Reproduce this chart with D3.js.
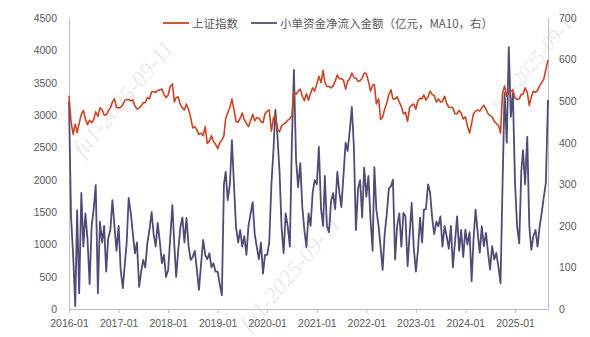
<!DOCTYPE html>
<html><head><meta charset="utf-8">
<script src="https://cdn.jsdelivr.net/npm/d3@7/dist/d3.min.js"></script>
<style>body{margin:0;background:#fff}svg{display:block}</style>
</head><body><svg id="c" width="590" height="337"></svg>
<script>
// ---- data ----
const seriesNames = ["上证指数", "小单资金净流入金额（亿元，MA10，右）"];
const xTickLabels = ["2016-01","2017-01","2018-01","2019-01","2020-01","2021-01","2022-01","2023-01","2024-01","2025-01"];
const leftTicks = [0,500,1000,1500,2000,2500,3000,3500,4000,4500];
const rightTicks = [0,100,200,300,400,500,600,700];
const watermark = "fu1-2025-09-11";

// semi-monthly observations (1st and 16th of each month), 2016-01-01 .. 2025-09-01
const shIndex = [
 3300,2900,2700,2860,2730,2870,3010,3070,2940,2850,2920,2880,2930,3050,2980,3110,3080,3000,3000,3060,3110,3200,3250,3120,
 3110,3120,3160,3230,3240,3240,3220,3230,3140,3090,3110,3140,3190,3190,3270,3250,3360,3360,3350,3380,3390,3400,3320,3270,
 3310,3440,3480,3200,3270,3280,3160,3110,3080,3170,3080,2960,2800,2820,2770,2700,2720,2680,2820,2560,2600,2680,2590,2550,
 2480,2570,2610,2680,2950,3030,3120,3250,3080,2900,2890,2950,3030,2930,2870,2820,2920,3010,2910,2960,2950,2900,2880,3020,
 3060,3080,2750,2950,3000,2780,2740,2830,2860,2880,2920,2940,3000,3360,3320,3370,3400,3290,3220,3330,3230,3340,3420,3370,
 3480,3600,3500,3690,3510,3440,3440,3420,3450,3520,3620,3560,3560,3540,3400,3520,3560,3650,3580,3570,3520,3530,3570,3650,
 3640,3520,3370,3460,3470,3170,3250,2930,2970,3090,3190,3320,3390,3250,3250,3280,3200,3130,3020,3040,2900,3120,3150,3170,
 3090,3220,3260,3250,3310,3230,3280,3370,3320,3300,3200,3250,3200,3210,3290,3180,3120,3120,3110,3020,3020,3070,3030,2940,
 2970,2830,2720,2870,3020,3060,3080,3060,3110,3150,3090,3020,2990,2970,2900,2870,2840,2720,3340,3450,3290,3350,3360,3390,
 3260,3240,3250,3320,3320,3420,3350,3150,3280,3370,3350,3380,3450,3500,3560,3700,3850
];
const smallFlow = [
 500,222,126,7,238,38,279,150,230,170,60,200,240,298,38,210,160,200,90,170,190,262,200,140,
 200,94,50,110,159,267,230,180,134,160,53,90,118,100,159,190,233,180,150,207,160,110,130,77,
 94,170,250,150,77,140,197,220,160,219,150,118,125,140,94,46,110,166,130,120,134,100,110,90,
 90,60,33,300,330,262,300,406,300,197,160,190,150,175,130,200,230,257,180,150,120,160,85,130,
 130,160,300,380,479,420,330,197,134,230,197,150,400,575,358,293,351,245,190,149,230,200,279,310,
 300,390,240,200,320,200,185,260,279,240,330,280,245,320,400,380,430,486,390,190,290,310,220,340,
 270,320,214,140,341,238,200,149,94,180,230,290,295,311,119,200,230,150,231,223,103,180,255,150,
 90,140,220,160,239,240,300,279,220,180,210,199,223,150,200,175,145,200,100,160,223,140,190,125,
 191,155,185,67,167,239,183,135,199,151,183,135,95,151,119,135,100,62,300,520,400,630,462,519,
 303,200,158,330,382,300,414,200,142,175,190,150,197,230,269,303,503
];

// ---- dates ----
const dates = [];
for (let y = 2016; y <= 2025; y++) for (let m = 0; m < 12; m++) for (const d of [1,16]) {
  const dt = new Date(y, m, d);
  if (dt <= new Date(2025, 8, 1)) dates.push(dt);
}
const parse = d3.timeParse("%Y-%m");

// ---- layout ----
const svg = d3.select("#c");
const L = 69, R = 548, T = 18, B = 309;
const x = d3.scaleTime().domain([new Date(2016,0,1), new Date(2025,8,1)]).range([L, R]);
const yL = d3.scaleLinear().domain([0,4500]).range([B, T]);
const yR = d3.scaleLinear().domain([0,700]).range([B, T]);
const txt = "#595959", axisCol = "#bfbfbf";
const numFont = "'Liberation Sans', Arial, sans-serif";
const cjkFont = "'Noto Sans CJK SC', sans-serif";

// watermarks
[[125,100,23],[292,275,23],[536,62,20]].forEach(([cx,cy,fs]) => {
  svg.append("text").attr("x", cx).attr("y", cy)
    .attr("transform", `rotate(-50 ${cx} ${cy})`)
    .attr("text-anchor","middle").attr("dominant-baseline","middle")
    .attr("font-family","'Liberation Serif', serif").attr("font-style","italic")
    .attr("font-size", fs).attr("fill", "#ebebeb").text(watermark);
});

// axes
const gx = svg.append("g").attr("transform", `translate(0,${B})`)
  .call(d3.axisBottom(x).tickValues(xTickLabels.map(parse)).tickSize(4).tickSizeOuter(0).tickFormat(d3.timeFormat("%Y-%m")));
gx.select(".domain").attr("stroke", axisCol);
gx.selectAll(".tick line").attr("stroke", axisCol);
gx.selectAll(".tick text").attr("fill", txt).attr("font-size", 10.5).attr("font-family", numFont).attr("dy", "1.05em");

const gl = svg.append("g").attr("transform", `translate(${L},0)`)
  .call(d3.axisLeft(yL).tickValues(leftTicks).tickSize(0).tickPadding(12).tickFormat(d3.format("d")));
gl.select(".domain").attr("stroke", axisCol);
gl.selectAll(".tick text").attr("fill", txt).attr("font-size", 10.5).attr("font-family", numFont);

const gr = svg.append("g").attr("transform", `translate(${R},0)`)
  .call(d3.axisRight(yR).tickValues(rightTicks).tickSize(0).tickPadding(11).tickFormat(d3.format("d")));
gr.select(".domain").attr("stroke", axisCol);
gr.selectAll(".tick text").attr("fill", txt).attr("font-size", 10.5).attr("font-family", numFont);

// lines
const lineL = d3.line().x((d,i) => x(dates[i])).y(d => yL(d));
const lineR = d3.line().x((d,i) => x(dates[i])).y(d => yR(d));
svg.append("path").datum(smallFlow).attr("d", lineR)
  .attr("fill","none").attr("stroke","#504b77").attr("stroke-width",1.8).attr("stroke-linejoin","round");
svg.append("path").datum(shIndex).attr("d", lineL)
  .attr("fill","none").attr("stroke","#cb4322").attr("stroke-width",1.6).attr("stroke-linejoin","round");

// legend
const legend = [
  {x1:163, x2:189, tx:192, color:"#cb4322", name:seriesNames[0]},
  {x1:251, x2:277, tx:280, color:"#504b77", name:seriesNames[1]}
];
legend.forEach(l => {
  svg.append("line").attr("x1", l.x1).attr("x2", l.x2).attr("y1", 23).attr("y2", 23)
    .attr("stroke", l.color).attr("stroke-width", 1.8);
  svg.append("text").attr("x", l.tx).attr("y", 27.5).attr("fill", txt)
    .attr("font-size", 11.5).attr("font-family", cjkFont).text(l.name);
});
</script></body></html>
